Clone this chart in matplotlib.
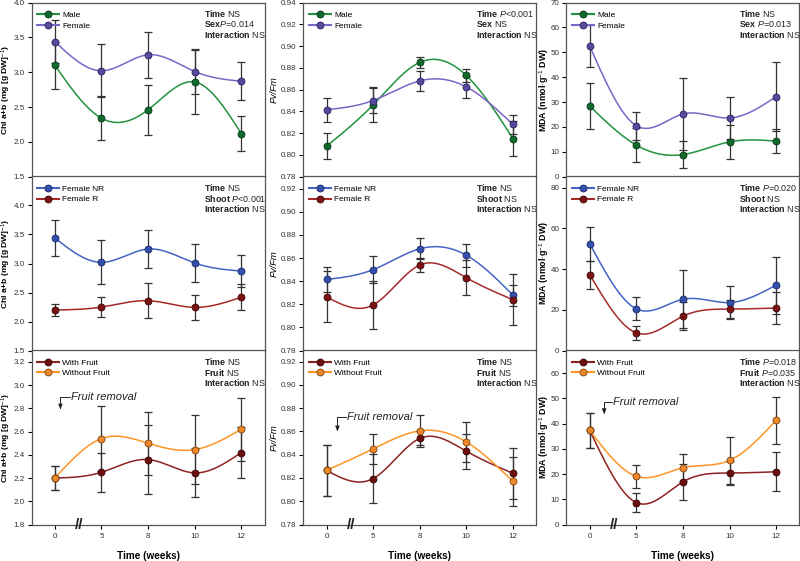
import numpy as np
import matplotlib
matplotlib.use("Agg")
import matplotlib.pyplot as plt

plt.rcParams['font.family'] = ['Liberation Sans', 'DejaVu Sans']
plt.rcParams['mathtext.fontset'] = 'custom'
plt.rcParams['mathtext.rm'] = 'Liberation Sans'
plt.rcParams['mathtext.bf'] = 'Liberation Sans:bold'
plt.rcParams['mathtext.it'] = 'Liberation Sans:italic'

# x categories (weeks)
weeks = ['0', '5', '8', '10', '12']

# Chl a+b
chl_male = [3.10, 2.34, 2.46, 2.86, 2.12]
chl_male_err = [0.34, 0.32, 0.36, 0.46, 0.25]
chl_female = [3.44, 3.02, 3.25, 3.01, 2.87]
chl_female_err = [0.31, 0.38, 0.33, 0.33, 0.27]
chl_fem_r = [2.20, 2.25, 2.36, 2.245, 2.42]
chl_fem_r_err = [0.10, 0.17, 0.30, 0.21, 0.22]
chl_nofruit = [2.20, 2.54, 2.50, 2.445, 2.62]
chl_nofruit_err = [0.10, 0.28, 0.27, 0.30, 0.27]

# Fv/Fm
fv_male = [0.808, 0.846, 0.885, 0.873, 0.815]
fv_male_err = [0.012, 0.016, 0.005, 0.006, 0.016]
fv_female = [0.8415, 0.850, 0.868, 0.8625, 0.828]
fv_female_err = [0.011, 0.0115, 0.009, 0.010, 0.009]
fv_fem_r = [0.8265, 0.8195, 0.854, 0.843, 0.824]
fv_fem_r_err = [0.022, 0.021, 0.006, 0.015, 0.022]
fv_nofruit = [0.8265, 0.845, 0.8605, 0.851, 0.817]
fv_nofruit_err = [0.022, 0.013, 0.014, 0.017, 0.021]

# MDA
mda_male = [28.4, 12.7, 8.9, 14.0, 14.3]
mda_male_err = [9.1, 6.9, 5.4, 6.7, 4.9]
mda_female = [52.5, 20.5, 25.2, 23.6, 32.2]
mda_female_err = [8.3, 5.6, 14.3, 8.3, 14.0]
mda_fem_r = [37.3, 8.7, 16.9, 20.4, 20.9]
mda_fem_r_err = [6.9, 3.6, 7.0, 4.6, 7.8]
mda_nofruit = [37.3, 19.1, 22.5, 25.4, 41.3]
mda_nofruit_err = [6.9, 4.5, 5.3, 9.4, 9.3]

# colours: (line, marker face, marker edge)
c_male = ('#23913f', '#0f6a2c', '#07361a')
c_female = ('#7a66c6', '#5a489c', '#2b2260')
c_nr = ('#4563c6', '#3350ad', '#1a2a66')
c_r = ('#a62a2a', '#7d1212', '#3d0808')
c_with = ('#8e2222', '#6e0f0f', '#350606')
c_without = ('#ff9424', '#f0882a', '#7a4310')


def natural_spline(y, n=60):
    # natural cubic spline through equally spaced points (x = 0..len-1)
    y = np.asarray(y, float)
    k = len(y)
    A = np.zeros((k, k))
    b = np.zeros(k)
    A[0, 0] = A[-1, -1] = 1
    for i in range(1, k - 1):
        A[i, i - 1], A[i, i], A[i, i + 1] = 1, 4, 1
        b[i] = 6 * (y[i + 1] - 2 * y[i] + y[i - 1])
    M = np.linalg.solve(A, b)
    xs, ys = [], []
    for i in range(k - 1):
        t = np.linspace(0, 1, n)
        s = (M[i] * (1 - t) ** 3 / 6 + M[i + 1] * t ** 3 / 6
             + (y[i] - M[i] / 6) * (1 - t) + (y[i + 1] - M[i + 1] / 6) * t)
        xs.append(i + t)
        ys.append(s)
    return np.concatenate(xs), np.concatenate(ys)


def series(ax, vals, errs, col, label):
    x = np.arange(len(vals))
    sx, sy = natural_spline(vals)
    ax.plot(sx, sy, color=col[0], lw=1.1, zorder=2)
    ax.errorbar(x, vals, yerr=errs, fmt='none', ecolor='#333333', elinewidth=0.9,
                capsize=3, capthick=0.9, zorder=3)
    ax.plot(x, vals, 'o', ms=5, mfc=col[1], mec=col[2], mew=0.6, zorder=4)
    # legend proxy
    ax.plot([], [], '-o', color=col[0], ms=5, mfc=col[1], mec=col[2], mew=0.6, label=label)


def stats(ax, lines):
    for i, s in enumerate(lines):
        ax.text(0.74, 0.935 - i * 0.06, s, transform=ax.transAxes, fontsize=6.4,
                va='center', ha='left', color='#222222')


fig = plt.figure(figsize=(8, 5.61), dpi=100)
lefts = [0.0394, 0.379, 0.708]
bottoms = [0.685, 0.375, 0.065]
w, h = 0.2913, 0.3105
axes = [[fig.add_axes([l, b, w, h]) for l in lefts] for b in bottoms]

chl_label = 'Chl a+b (mg [g DW]$^{-1}$)'
fv_label = 'Fv/Fm'
mda_label = 'MDA (nmol$\\cdot$g$^{-1}$ DW)'

# row 1: sex
series(axes[0][0], chl_male, chl_male_err, c_male, 'Male')
series(axes[0][0], chl_female, chl_female_err, c_female, 'Female')
series(axes[0][1], fv_male, fv_male_err, c_male, 'Male')
series(axes[0][1], fv_female, fv_female_err, c_female, 'Female')
series(axes[0][2], mda_male, mda_male_err, c_male, 'Male')
series(axes[0][2], mda_female, mda_female_err, c_female, 'Female')
# row 2: shoot
series(axes[1][0], chl_female, chl_female_err, c_nr, 'Female NR')
series(axes[1][0], chl_fem_r, chl_fem_r_err, c_r, 'Female R')
series(axes[1][1], fv_female, fv_female_err, c_nr, 'Female NR')
series(axes[1][1], fv_fem_r, fv_fem_r_err, c_r, 'Female R')
series(axes[1][2], mda_female, mda_female_err, c_nr, 'Female NR')
series(axes[1][2], mda_fem_r, mda_fem_r_err, c_r, 'Female R')
# row 3: fruit
series(axes[2][0], chl_fem_r, chl_fem_r_err, c_with, 'With Fruit')
series(axes[2][0], chl_nofruit, chl_nofruit_err, c_without, 'Without Fruit')
series(axes[2][1], fv_fem_r, fv_fem_r_err, c_with, 'With Fruit')
series(axes[2][1], fv_nofruit, fv_nofruit_err, c_without, 'Without Fruit')
series(axes[2][2], mda_fem_r, mda_fem_r_err, c_with, 'With Fruit')
series(axes[2][2], mda_nofruit, mda_nofruit_err, c_without, 'Without Fruit')

stats(axes[0][0], [r'$\mathbf{Time}$ NS', r'$\mathbf{Sex}$$\mathit{P}$=0.014', r'$\mathbf{Interaction}$ NS'])
stats(axes[0][1], [r'$\mathbf{Time}$ $\mathit{P}$<0.001', r'$\mathbf{Sex}$ NS', r'$\mathbf{Interaction}$ NS'])
stats(axes[0][2], [r'$\mathbf{Time}$ NS', r'$\mathbf{Sex}$ $\mathit{P}$=0.013', r'$\mathbf{Interaction}$ NS'])
stats(axes[1][0], [r'$\mathbf{Time}$ NS', r'$\mathbf{Shoot}$ $\mathit{P}$<0.001', r'$\mathbf{Interaction}$ NS'])
stats(axes[1][1], [r'$\mathbf{Time}$ NS', r'$\mathbf{Shoot}$ NS', r'$\mathbf{Interaction}$ NS'])
stats(axes[1][2], [r'$\mathbf{Time}$ $\mathit{P}$=0.020', r'$\mathbf{Shoot}$ NS', r'$\mathbf{Interaction}$ NS'])
stats(axes[2][0], [r'$\mathbf{Time}$ NS', r'$\mathbf{Fruit}$ NS', r'$\mathbf{Interaction}$ NS'])
stats(axes[2][1], [r'$\mathbf{Time}$ NS', r'$\mathbf{Fruit}$ NS', r'$\mathbf{Interaction}$ NS'])
stats(axes[2][2], [r'$\mathbf{Time}$ $\mathit{P}$=0.018', r'$\mathbf{Fruit}$ $\mathit{P}$=0.035', r'$\mathbf{Interaction}$ NS'])

ylims = [[(1.5, 4.0), (0.78, 0.94), (0, 70)],
         [(1.5, 4.5), (0.78, 0.9306), (0, 85.5)],
         [(1.8, 3.3), (0.78, 0.9297), (0, 69)]]
yticks = [[np.arange(1.5, 4.01, 0.5), np.arange(0.78, 0.941, 0.02), np.arange(0, 71, 10)],
          [np.arange(1.5, 4.01, 0.5), np.arange(0.78, 0.921, 0.02), np.arange(0, 81, 20)],
          [np.arange(1.8, 3.21, 0.2), np.arange(0.78, 0.921, 0.02), np.arange(0, 61, 10)]]
yfmt = ['%.1f', '%.2f', '%d']
ylabels = [chl_label, fv_label, mda_label]
ylabel_x = [-0.08, -0.105, -0.065]
ylabel_size = [6.1, 6.8, 6.4]

for r in range(3):
    for c in range(3):
        ax = axes[r][c]
        ax.set_xlim(-0.5, 4.5)
        ax.set_ylim(*ylims[r][c])
        ax.set_yticks(yticks[r][c])
        ax.set_yticklabels([yfmt[c] % v for v in yticks[r][c]])
        if c == 1:
            ax.set_ylabel(ylabels[c], fontsize=ylabel_size[c], style='italic')
        else:
            ax.set_ylabel(ylabels[c], fontsize=ylabel_size[c], fontweight='bold')
        ax.yaxis.set_label_coords(ylabel_x[c], 0.5)
        ax.tick_params(axis='y', direction='out', length=3, width=0.8, labelsize=5.8,
                       labelcolor='#333333', pad=2)
        for sp in ax.spines.values():
            sp.set_color('#555555')
            sp.set_linewidth(0.9)
        ax.legend(loc='upper left', frameon=False, fontsize=6.0, handlelength=2.6,
                  handletextpad=0.4, labelspacing=0.35, borderaxespad=0.3,
                  bbox_to_anchor=(0.0, 0.985))
        ax.set_xticks(range(len(weeks)))
        if r < 2:
            ax.tick_params(axis='x', length=0, labelbottom=False)
        else:
            ax.set_xticklabels(weeks)
            ax.tick_params(axis='x', direction='out', length=3, width=0.8, labelsize=5.8,
                           labelcolor='#333333', pad=3)
            ax.set_xlabel('Time (weeks)', fontsize=7.2, fontweight='bold', labelpad=8)
            ax.text(0.53, 0.0, '//', transform=ax.get_xaxis_transform(), fontsize=11,
                    fontweight='bold', ha='center', va='center', color='#222222',
                    clip_on=False, zorder=5)

# fruit removal annotations
fr_text = [(0.34, 2.90), (0.43, 0.872), (0.50, 48.7)]
fr_tip = [(0.12, 2.79), (0.235, 0.860), (0.31, 43.7)]
for c in range(3):
    ax = axes[2][c]
    ax.text(fr_text[c][0], fr_text[c][1], 'Fruit removal', fontsize=8, style='italic',
            ha='left', va='center', color='#222222')
    ax.annotate('', xy=fr_tip[c], xytext=(fr_text[c][0] - 0.02, fr_text[c][1]),
                arrowprops=dict(arrowstyle='-|>,head_length=0.3,head_width=0.12', color='#222222',
                                lw=0.7, shrinkA=0, shrinkB=0,
                                connectionstyle='angle,angleA=180,angleB=90,rad=0'))

fig.savefig('out.png', dpi=100)
